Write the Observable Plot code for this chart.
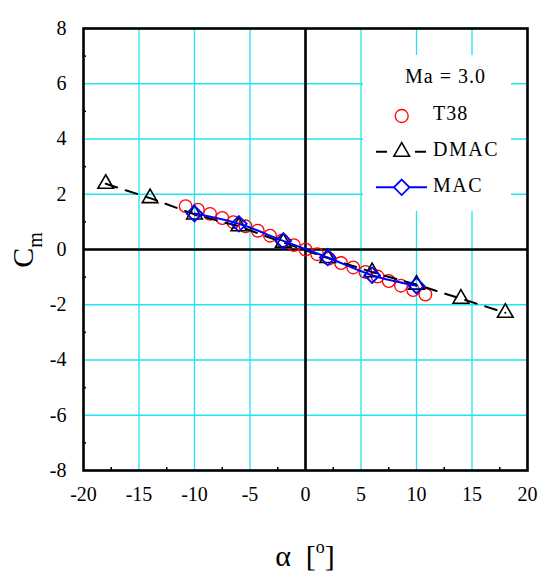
<!DOCTYPE html>
<html><head><meta charset="utf-8">
<script src="https://cdn.jsdelivr.net/npm/d3@7"></script>
<script src="https://cdn.jsdelivr.net/npm/@observablehq/plot@0.6"></script>
<style>body{margin:0;background:#fff;} svg text{font-family:'Liberation Serif','Times New Roman',serif !important;}</style>
</head><body><div id="chart"></div>
<script>
// T38 experimental data
const t38Alpha = [-10.8,-9.7,-8.6,-7.5,-6.5,-5.4,-4.3,-3.2,-2.1,-1.05,0,1.05,2.1,3.2,4.3,5.4,6.5,7.5,8.6,9.7,10.8];
const t38Cm    = [1.57,1.44,1.29,1.14,0.99,0.84,0.68,0.50,0.33,0.16,0.0,-0.17,-0.33,-0.49,-0.65,-0.81,-0.98,-1.14,-1.31,-1.47,-1.63];
// DMAC
const dmacAlpha = [-18,-14,-10,-6,-2,2,6,10,14,18];
const dmacCm    = [2.38,1.86,1.27,0.84,0.25,-0.31,-0.82,-1.27,-1.78,-2.29];
// MAC
const macAlpha = [-10,-6,-2,2,6,10];
const macCm    = [1.30,0.93,0.31,-0.29,-0.93,-1.31];
// ticks
const xTicks = [-20,-15,-10,-5,0,5,10,15,20];
const yTicks = [-8,-6,-4,-2,0,2,4,6,8];
const xMinor = [-17.5,-12.5,-7.5,-2.5,2.5,7.5,12.5,17.5];
const yMinor = [-7,-5,-3,-1,1,3,5,7];
const seriesNames = ["T38","DMAC","MAC"];
const legendTitle = "Ma = 3.0";

const t38 = t38Alpha.map((a,i)=>({a, c:t38Cm[i]}));
const dmac = dmacAlpha.map((a,i)=>({a, c:dmacCm[i]}));
const mac = macAlpha.map((a,i)=>({a, c:macCm[i]}));

const GRID = "#22e4ee";
const FONT = "'Liberation Serif', 'Times New Roman', serif";
const fmt = d => String(d);

const plot = Plot.plot({
  width: 538, height: 571,
  marginLeft: 83, marginRight: 11, marginTop: 28, marginBottom: 101,
  style: {fontFamily: FONT, fontSize: "20px", background: "white", color: "black", overflow: "visible"},
  x: {domain: [-20, 20]},
  y: {domain: [-8, 8]},
  marks: [
    Plot.gridX(xTicks, {stroke: GRID, strokeOpacity: 1, strokeWidth: 1.3}),
    Plot.gridY(yTicks, {stroke: GRID, strokeOpacity: 1, strokeWidth: 1.3}),
    Plot.axisX({ticks: xTicks, tickSize: 0, tickPadding: 16, tickFormat: fmt, label: null, fontSize: 20, fontFamily: FONT}),
    Plot.axisY({ticks: yTicks, tickSize: 0, tickPadding: 17, tickFormat: fmt, label: null, fontSize: 20, fontFamily: FONT}),
    Plot.axisX({ticks: xMinor, tickSize: -3, tickFormat: () => "", label: null, strokeWidth: 1.5}),
    Plot.axisY({ticks: yMinor, tickSize: -3, tickFormat: () => "", label: null, strokeWidth: 1.5}),
    Plot.ruleX([0], {stroke: "black", strokeWidth: 2.6}),
    Plot.ruleY([0], {stroke: "black", strokeWidth: 2.6}),
    Plot.frame({stroke: "black", strokeWidth: 2.6}),
    Plot.dot(t38, {x: "a", y: "c", r: 6.3, stroke: "#ff0000", strokeWidth: 1.3, fill: "none"}),
    Plot.line(dmac, {x: "a", y: "c", stroke: "black", strokeWidth: 2, strokeDasharray: "12,9"}),
    Plot.dot(dmac, {x: "a", y: "c", symbol: "triangle", r: 5.8, stroke: "black", strokeWidth: 1.6, fill: "none"}),
    Plot.line(mac, {x: "a", y: "c", curve: "catmull-rom", stroke: "#0000ff", strokeWidth: 2}),
    Plot.dot(mac, {x: "a", y: "c", symbol: "diamond2", r: 7, stroke: "#0000ff", strokeWidth: 1.8, fill: "none"})
  ]
});

const svg = d3.select(plot);
// legend
const lg = svg.append("g").attr("font-family", FONT).attr("font-size", 20).attr("fill", "black").attr("text-anchor", "start");
lg.append("rect").attr("x", 363).attr("y", 55).attr("width", 148).attr("height", 156).attr("fill", "white");
lg.append("text").attr("x", 405).attr("y", 83).attr("letter-spacing", 1).text(legendTitle);
// T38
lg.append("circle").attr("cx", 401.7).attr("cy", 116).attr("r", 6.5).attr("fill", "none").attr("stroke", "#ff0000").attr("stroke-width", 1.3);
lg.append("text").attr("x", 433).attr("y", 119.5).attr("letter-spacing", 1).text(seriesNames[0]);
// DMAC
lg.append("line").attr("x1", 376).attr("x2", 427).attr("y1", 151.7).attr("y2", 151.7).attr("stroke", "black").attr("stroke-width", 2).attr("stroke-dasharray", "11,28");
lg.append("path").attr("d", d3.symbol(d3.symbolTriangle, 5.8*5.8*Math.PI)()).attr("transform", "translate(401.7,151.7)").attr("fill", "none").attr("stroke", "black").attr("stroke-width", 1.6);
lg.append("text").attr("x", 433).attr("y", 155.5).attr("letter-spacing", 1.5).text(seriesNames[1]);
// MAC
lg.append("line").attr("x1", 376).attr("x2", 427).attr("y1", 187.3).attr("y2", 187.3).attr("stroke", "#0000ff").attr("stroke-width", 2);
lg.append("path").attr("d", d3.symbol(d3.symbolDiamond2, 7*7*Math.PI)()).attr("transform", "translate(401.7,187.3)").attr("fill", "white").attr("stroke", "#0000ff").attr("stroke-width", 1.8);
lg.append("text").attr("x", 433).attr("y", 192).attr("letter-spacing", 1.5).text(seriesNames[2]);

// y label C_m (rotated)
const yl = svg.append("text").attr("font-family", FONT).attr("font-size", 30).attr("text-anchor", "middle")
  .attr("transform", "translate(33,250) rotate(-90)");
yl.append("tspan").text("C");
yl.append("tspan").attr("font-size", 20).attr("dy", 9).text("m");

// x label α [°]
const xl = svg.append("text").attr("font-family", FONT).attr("font-size", 30).attr("text-anchor", "middle")
  .attr("x", 305).attr("y", 566);
xl.append("tspan").text("α  [");
xl.append("tspan").attr("font-size", 18).attr("dy", -13).text("o");
xl.append("tspan").attr("dy", 13).text("]");

document.getElementById("chart").appendChild(plot);
</script>
</body></html>
